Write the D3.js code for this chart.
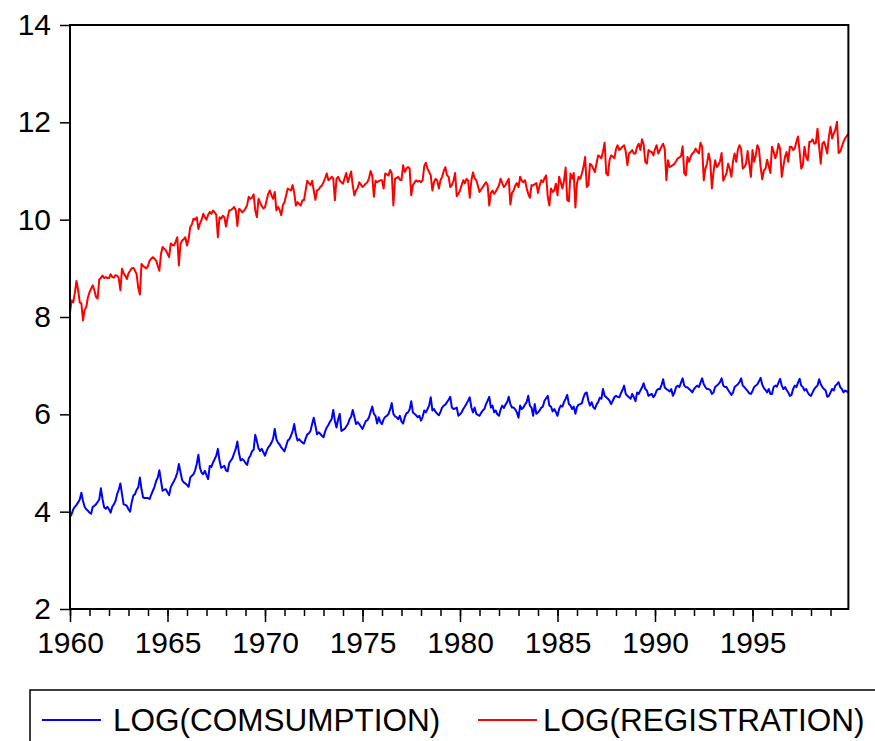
<!DOCTYPE html>
<html>
<head>
<meta charset="utf-8">
<script src="https://cdn.jsdelivr.net/npm/d3@7/dist/d3.min.js"></script>
<style>
  html, body { margin: 0; padding: 0; background: #fff; }
  svg { display: block; font-family: "Liberation Sans", Arial, Helvetica, sans-serif; }
</style>
</head>
<body>
<div id="chart"></div>
<script>
// monthly data 1960M01 - 1999M12, one row per year (Jan..Dec)
let registration = [
  8.10, 8.34, 8.30, 8.50, 8.74, 8.55, 8.30, 8.28, 7.93, 8.15, 8.20, 8.40, // 1960
  8.51, 8.58, 8.65, 8.55, 8.41, 8.38, 8.77, 8.80, 8.85, 8.80, 8.82, 8.80,
  8.80, 8.88, 8.82, 8.81, 8.86, 8.85, 8.80, 8.55, 8.99, 8.90, 8.85, 8.78,
  8.90, 8.95, 9.00, 9.01, 8.95, 8.88, 8.60, 8.46, 9.09, 9.05, 9.02, 9.00,
  9.05, 9.16, 9.20, 9.23, 9.20, 9.16, 9.05, 8.95, 9.30, 9.44, 9.40, 9.37,
  9.30, 9.23, 9.51, 9.48, 9.47, 9.55, 9.64, 9.06, 9.50, 9.57, 9.60, 9.64, // 1965
  9.47, 9.60, 9.85, 9.90, 10.02, 10.00, 10.05, 9.81, 9.92, 10.00, 10.12, 10.05,
  10.00, 10.10, 10.16, 10.12, 10.19, 10.15, 10.10, 9.64, 10.05, 10.02, 10.08, 10.05,
  9.86, 10.05, 10.19, 10.20, 10.22, 10.26, 10.20, 9.87, 10.22, 10.20, 10.15, 10.18,
  10.23, 10.30, 10.47, 10.43, 10.45, 10.52, 10.19, 10.05, 10.43, 10.35, 10.28, 10.23,
  10.26, 10.40, 10.53, 10.60, 10.50, 10.43, 10.57, 10.19, 10.26, 10.20, 10.09, 10.30, // 1970
  10.36, 10.50, 10.64, 10.62, 10.60, 10.71, 10.55, 10.29, 10.36, 10.32, 10.29, 10.40,
  10.40, 10.60, 10.80, 10.75, 10.71, 10.80, 10.60, 10.41, 10.60, 10.62, 10.67, 10.70,
  10.77, 10.85, 10.95, 10.81, 10.84, 10.88, 10.85, 10.40, 10.84, 10.88, 10.80, 10.77,
  10.74, 10.85, 10.96, 10.77, 10.88, 10.99, 10.70, 10.50, 10.60, 10.65, 10.77, 10.72,
  10.67, 10.70, 10.74, 10.77, 10.85, 11.00, 10.90, 10.47, 10.80, 10.77, 10.79, 10.81, // 1975
  10.81, 10.64, 10.95, 10.93, 10.91, 11.02, 10.95, 10.29, 10.84, 10.86, 10.88, 10.82,
  10.81, 11.12, 10.98, 11.05, 11.08, 11.05, 10.50, 10.71, 10.76, 10.81, 10.78, 10.80,
  10.77, 10.81, 11.10, 11.17, 11.05, 10.98, 10.91, 10.60, 10.77, 10.84, 10.80, 10.64,
  10.81, 10.88, 11.00, 11.08, 10.91, 10.88, 10.67, 10.71, 10.80, 10.96, 10.48, 10.53,
  10.60, 10.71, 10.81, 10.75, 10.84, 10.80, 10.45, 10.81, 10.97, 10.85, 10.81, 10.70, // 1980
  10.57, 10.62, 10.67, 10.72, 10.77, 10.71, 10.29, 10.55, 10.60, 10.53, 10.58, 10.64,
  10.70, 10.84, 10.75, 10.67, 10.71, 10.78, 10.84, 10.31, 10.55, 10.60, 10.70, 10.75,
  10.67, 10.88, 10.80, 10.77, 10.81, 10.65, 10.53, 10.45, 10.71, 10.70, 10.73, 10.75,
  10.55, 10.70, 10.81, 10.77, 10.85, 10.91, 10.47, 10.29, 10.64, 10.57, 10.60, 10.74,
  10.50, 10.88, 10.77, 10.64, 10.80, 11.07, 10.40, 10.38, 10.95, 10.84, 10.96, 10.25, // 1985
  10.75, 10.88, 10.84, 10.95, 11.08, 11.29, 10.67, 10.71, 11.15, 11.12, 11.05, 10.98,
  11.15, 11.32, 11.30, 11.26, 11.40, 11.58, 10.95, 10.91, 11.22, 11.32, 11.30, 11.26,
  11.45, 11.53, 11.43, 11.46, 11.50, 11.53, 11.40, 11.12, 11.36, 11.39, 11.43, 11.36,
  11.36, 11.50, 11.56, 11.43, 11.65, 11.55, 11.19, 11.15, 11.43, 11.40, 11.39, 11.32,
  11.45, 11.53, 11.36, 11.43, 11.50, 11.56, 11.45, 10.81, 11.22, 11.08, 11.10, 11.12, // 1990
  11.15, 11.20, 11.26, 11.28, 11.30, 11.51, 10.95, 10.91, 11.29, 11.19, 11.30, 11.36,
  11.39, 11.46, 11.40, 11.36, 11.58, 11.50, 10.81, 11.05, 11.15, 11.36, 11.20, 10.64,
  10.98, 11.22, 11.08, 11.12, 11.20, 11.37, 10.80, 10.88, 10.95, 11.15, 11.05, 10.88,
  11.20, 11.36, 11.19, 11.44, 11.53, 11.45, 11.05, 11.08, 11.15, 11.41, 11.15, 10.88,
  11.43, 11.19, 11.32, 11.53, 11.45, 11.08, 10.83, 11.01, 11.05, 11.23, 11.10, 10.96, // 1995
  11.50, 11.40, 11.26, 11.36, 11.56, 11.45, 10.88, 11.10, 11.29, 11.39, 11.19, 11.50,
  11.50, 11.43, 11.46, 11.60, 11.71, 11.40, 11.05, 11.12, 11.50, 11.29, 11.22, 11.60,
  11.60, 11.65, 11.56, 11.58, 11.87, 11.50, 11.15, 11.56, 11.60, 11.50, 11.36, 11.70,
  11.91, 11.67, 11.77, 11.85, 12.01, 11.37, 11.40, 11.50, 11.60, 11.67, 11.72, 11.76
]

let consumption = [
  3.89, 3.95, 4.05, 4.10, 4.14, 4.19, 4.25, 4.39, 4.22, 4.10, 4.05, 4.02, // 1960
  3.98, 3.96, 4.10, 4.12, 4.15, 4.20, 4.25, 4.48, 4.26, 4.09, 4.06, 4.10,
  4.05, 3.98, 4.10, 4.15, 4.22, 4.36, 4.45, 4.58, 4.36, 4.15, 4.14, 4.12,
  4.05, 4.00, 4.20, 4.33, 4.36, 4.45, 4.50, 4.70, 4.46, 4.29, 4.28, 4.28,
  4.28, 4.26, 4.35, 4.43, 4.51, 4.63, 4.70, 4.85, 4.63, 4.43, 4.45, 4.46,
  4.40, 4.34, 4.50, 4.57, 4.63, 4.70, 4.80, 4.98, 4.81, 4.65, 4.60, 4.58, // 1965
  4.55, 4.51, 4.70, 4.74, 4.77, 4.85, 4.98, 5.17, 4.90, 4.80, 4.77, 4.84,
  4.75, 4.67, 4.94, 4.92, 5.01, 5.08, 5.15, 5.29, 5.05, 4.90, 4.92, 4.94,
  4.85, 4.83, 5.00, 5.05, 5.10, 5.20, 5.29, 5.44, 5.20, 5.05, 5.08, 5.05,
  5.00, 4.96, 5.10, 5.15, 5.24, 5.27, 5.58, 5.45, 5.30, 5.25, 5.29, 5.22,
  5.15, 5.25, 5.32, 5.36, 5.42, 5.50, 5.70, 5.49, 5.42, 5.38, 5.32, 5.28, // 1970
  5.24, 5.35, 5.46, 5.49, 5.56, 5.65, 5.80, 5.59, 5.46, 5.49, 5.45, 5.42,
  5.40, 5.50, 5.59, 5.61, 5.66, 5.80, 5.93, 5.77, 5.59, 5.63, 5.60, 5.56,
  5.53, 5.65, 5.73, 5.78, 5.85, 5.90, 6.09, 5.87, 5.73, 5.90, 6.01, 5.66,
  5.68, 5.70, 5.75, 5.80, 5.90, 5.95, 6.09, 5.95, 5.80, 5.84, 5.80, 5.75,
  5.70, 5.78, 5.86, 5.88, 5.94, 6.05, 6.16, 6.01, 5.97, 5.81, 5.94, 5.84, // 1975
  5.80, 5.90, 5.95, 5.97, 6.01, 6.10, 6.23, 6.01, 5.96, 5.94, 5.90, 5.97,
  5.85, 5.81, 5.94, 6.02, 6.04, 6.10, 6.27, 6.04, 6.01, 5.98, 5.94, 5.97,
  5.87, 5.95, 6.08, 6.04, 6.11, 6.18, 6.35, 6.08, 6.11, 6.05, 6.01, 5.98,
  6.05, 6.14, 6.18, 6.20, 6.25, 6.30, 6.36, 6.14, 6.11, 6.12, 6.14, 5.97,
  6.00, 6.04, 6.11, 6.16, 6.22, 6.28, 6.35, 6.14, 6.04, 6.14, 6.01, 5.99, // 1980
  5.97, 6.03, 6.08, 6.11, 6.21, 6.28, 6.36, 6.14, 6.18, 6.04, 6.08, 6.00,
  5.97, 6.10, 6.18, 6.13, 6.20, 6.25, 6.36, 6.21, 6.14, 6.14, 6.10, 6.04,
  5.93, 6.18, 6.11, 6.14, 6.20, 6.25, 6.38, 6.18, 6.14, 5.97, 6.21, 6.01,
  6.04, 6.08, 6.14, 6.16, 6.28, 6.33, 6.38, 6.18, 6.16, 6.06, 6.11, 6.05,
  5.97, 6.11, 6.18, 6.16, 6.25, 6.32, 6.40, 6.21, 6.18, 6.11, 6.16, 6.01, // 1985
  6.15, 6.20, 6.21, 6.23, 6.35, 6.43, 6.45, 6.28, 6.18, 6.25, 6.15, 6.11,
  6.20, 6.25, 6.34, 6.32, 6.52, 6.38, 6.35, 6.32, 6.28, 6.21, 6.28, 6.35,
  6.38, 6.36, 6.35, 6.43, 6.50, 6.59, 6.42, 6.38, 6.35, 6.32, 6.42, 6.35,
  6.27, 6.45, 6.42, 6.49, 6.55, 6.64, 6.52, 6.49, 6.38, 6.40, 6.42, 6.35,
  6.40, 6.49, 6.52, 6.52, 6.60, 6.72, 6.55, 6.52, 6.50, 6.47, 6.52, 6.38, // 1990
  6.45, 6.56, 6.59, 6.56, 6.65, 6.74, 6.59, 6.56, 6.55, 6.52, 6.49, 6.45,
  6.52, 6.56, 6.59, 6.56, 6.65, 6.74, 6.62, 6.56, 6.52, 6.52, 6.50, 6.42,
  6.45, 6.56, 6.59, 6.62, 6.66, 6.74, 6.59, 6.56, 6.56, 6.50, 6.45, 6.40,
  6.45, 6.56, 6.59, 6.62, 6.66, 6.74, 6.59, 6.56, 6.52, 6.48, 6.43, 6.42,
  6.48, 6.56, 6.59, 6.62, 6.68, 6.75, 6.61, 6.54, 6.50, 6.45, 6.52, 6.42, // 1995
  6.42, 6.56, 6.59, 6.57, 6.65, 6.73, 6.59, 6.52, 6.56, 6.50, 6.45, 6.38,
  6.40, 6.52, 6.59, 6.56, 6.65, 6.73, 6.59, 6.56, 6.49, 6.52, 6.45, 6.40,
  6.38, 6.45, 6.52, 6.56, 6.59, 6.72, 6.62, 6.56, 6.52, 6.49, 6.36, 6.38,
  6.45, 6.52, 6.49, 6.59, 6.62, 6.66, 6.56, 6.52, 6.45, 6.49, 6.47, 6.45
]

let yTicks = [2, 4, 6, 8, 10, 12, 14]
let yearLabels = [1960, 1965, 1970, 1975, 1980, 1985, 1990, 1995]
let firstYear = 1960
let seriesNames = ["LOG(COMSUMPTION)", "LOG(REGISTRATION)"]
let seriesColors = ["#0000ff", "#ff0000"]

let width = 875, height = 741
let plotLeft = 70, plotRight = 850, plotTop = 25, plotBottom = 609

const svg = d3.select("#chart").append("svg").attr("width", width).attr("height", height)

// one observation per month, equal spacing
const xScale = d3.scaleLinear().domain([0, 480]).range([plotLeft, plotRight])
const yScale = d3.scaleLinear().domain([2, 14]).range([plotBottom, plotTop])
const n = registration.length

// y axis, ticks pointing out of the frame
const yAxis = d3.axisLeft(yScale).tickValues(yTicks).tickSize(10).tickPadding(9)
const gy = svg.append("g").attr("transform", "translate(" + plotLeft + ",0)").call(yAxis)
gy.select(".domain").remove()
gy.selectAll("text").attr("font-size", 30).attr("fill", "#000")

// x axis: yearly minor ticks, 5-year major ticks with labels
const yearIdx = d3.range(0, n, 12)
const majorIdx = yearLabels.map(y => (y - firstYear) * 12)
const gxMinor = svg.append("g").attr("transform", "translate(0," + plotBottom + ")")
  .call(d3.axisBottom(xScale).tickValues(yearIdx).tickSize(7).tickFormat(""))
const gxMajor = svg.append("g").attr("transform", "translate(0," + plotBottom + ")")
  .call(d3.axisBottom(xScale).tickValues(majorIdx).tickSize(13).tickPadding(10)
    .tickFormat(d => firstYear + d / 12))
gxMinor.select(".domain").remove()
gxMajor.select(".domain").remove()
svg.selectAll("g line").attr("stroke", "#000").attr("stroke-width", 1.5)
gxMajor.selectAll("text").attr("font-size", 30).attr("fill", "#000")

// series
const line = d3.line().x((d, i) => xScale(i)).y(d => yScale(d))
;[consumption, registration].forEach((s, k) => {
  svg.append("path").datum(s).attr("d", line)
    .attr("fill", "none").attr("stroke", seriesColors[k]).attr("stroke-width", 2)
    .attr("stroke-linejoin", "round")
})

// frame
svg.append("rect").attr("x", plotLeft).attr("y", plotTop)
  .attr("width", xScale(n - 1) - plotLeft).attr("height", plotBottom - plotTop)
  .attr("fill", "none").attr("stroke", "#000").attr("stroke-width", 2)

// legend
const lg = svg.append("g")
lg.append("rect").attr("x", 30).attr("y", 690).attr("width", 880).attr("height", 80)
  .attr("fill", "none").attr("stroke", "#000").attr("stroke-width", 1.5)
const legendLineX = [42, 478]
const legendTextX = [113, 543]
seriesNames.forEach((name, k) => {
  lg.append("line").attr("x1", legendLineX[k]).attr("x2", legendLineX[k] + 59)
    .attr("y1", 720).attr("y2", 720).attr("stroke", seriesColors[k]).attr("stroke-width", 2)
  lg.append("text").attr("x", legendTextX[k]).attr("y", 720).attr("dy", "0.35em")
    .attr("font-size", 31.5).attr("fill", "#000").text(name)
})
</script>
</body>
</html>
